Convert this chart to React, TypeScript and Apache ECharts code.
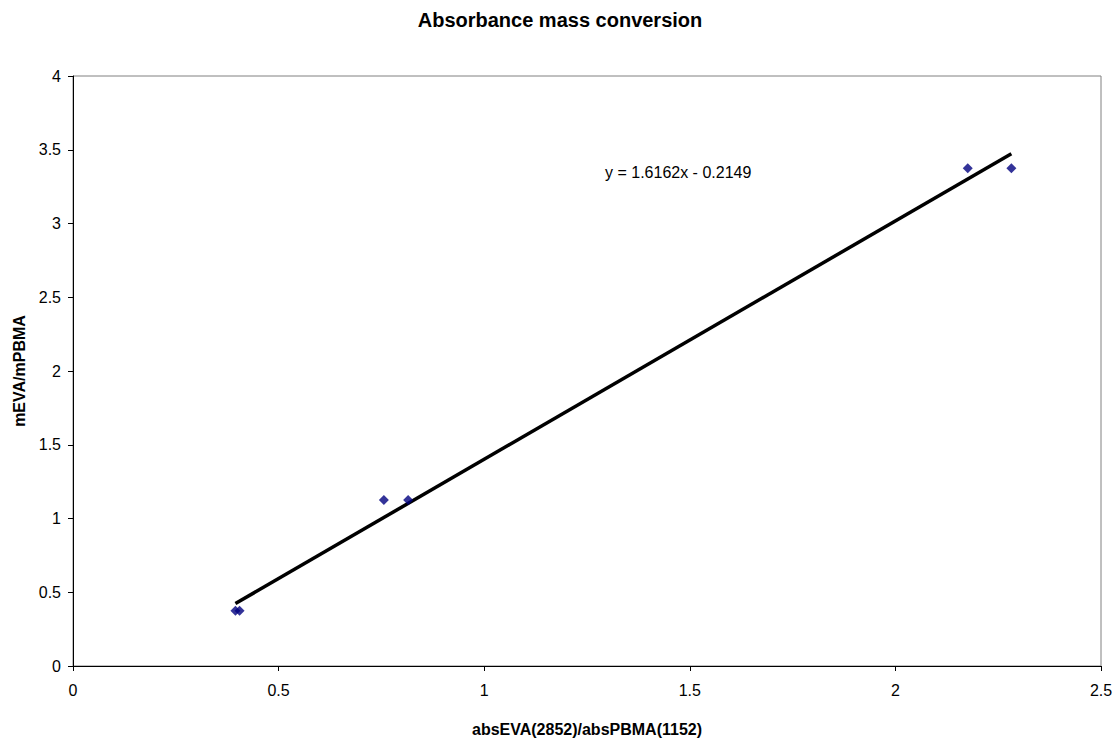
import React, { useEffect, useRef } from "react";
import * as echarts from "echarts";

const title = "Absorbance mass conversion";
const xAxisTitle = "absEVA(2852)/absPBMA(1152)";
const yAxisTitle = "mEVA/mPBMA";
const absRatio = [0.395, 0.405, 0.756, 0.815, 2.176, 2.282];
const massRatio = [0.375, 0.375, 1.125, 1.125, 3.375, 3.375];
const slope = 1.6162;
const intercept = -0.2149;
const equationLabel = "y = 1.6162x - 0.2149";

const FONT = "'Liberation Sans', Arial, sans-serif";

export default function App() {
  const ref = useRef<HTMLDivElement>(null);
  useEffect(() => {
    if (!ref.current) return;
    const chart = echarts.init(ref.current, null, { renderer: "svg" });
    const xMin = Math.min(...absRatio);
    const xMax = Math.max(...absRatio);
    const trend = [
      [xMin, slope * xMin + intercept],
      [xMax, slope * xMax + intercept],
    ];
    chart.setOption({
      animation: false,
      backgroundColor: "#ffffff",
      textStyle: { fontFamily: FONT },
      title: {
        text: title,
        left: "center",
        top: 5,
        textStyle: { fontFamily: FONT, fontSize: 20, fontWeight: "bold", color: "#000" },
      },
      grid: {
        left: 73,
        right: 19,
        top: 76,
        bottom: 64,
        show: true,
        borderColor: "#808080",
        borderWidth: 1,
        backgroundColor: "#ffffff",
      },
      xAxis: {
        type: "value",
        min: 0,
        max: 2.5,
        interval: 0.5,
        name: xAxisTitle,
        nameLocation: "middle",
        nameGap: 55,
        nameTextStyle: { fontFamily: FONT, fontSize: 16, fontWeight: "bold", color: "#000" },
        axisLine: { show: true, lineStyle: { color: "#000", width: 1 } },
        axisTick: { show: true, inside: false, length: 5, lineStyle: { color: "#000" } },
        axisLabel: { fontFamily: FONT, fontSize: 16, color: "#000", margin: 16 },
        splitLine: { show: false },
      },
      yAxis: {
        type: "value",
        min: 0,
        max: 4,
        interval: 0.5,
        name: yAxisTitle,
        nameLocation: "middle",
        nameGap: 45,
        nameRotate: 90,
        nameTextStyle: { fontFamily: FONT, fontSize: 16, fontWeight: "bold", color: "#000" },
        axisLine: { show: true, lineStyle: { color: "#000", width: 1 } },
        axisTick: { show: true, inside: false, length: 5, lineStyle: { color: "#000" } },
        axisLabel: { fontFamily: FONT, fontSize: 16, color: "#000", margin: 12 },
        splitLine: { show: false },
      },
      graphic: [
        {
          type: "text",
          left: 605,
          top: 164,
          style: { text: equationLabel, font: `16px ${FONT}`, fill: "#000" },
        },
      ],
      series: [
        {
          type: "line",
          data: trend,
          symbol: "none",
          lineStyle: { color: "#000", width: 3.5 },
          z: 2,
        },
        {
          type: "scatter",
          data: absRatio.map((x, i) => [x, massRatio[i]]),
          symbol: "diamond",
          symbolSize: 10,
          itemStyle: { color: "#000080" },
          z: 3,
        },
      ],
    });
    return () => chart.dispose();
  }, []);
  return <div ref={ref} style={{ width: 1120, height: 742, position: "absolute", left: 0, top: 0 }} />;
}
